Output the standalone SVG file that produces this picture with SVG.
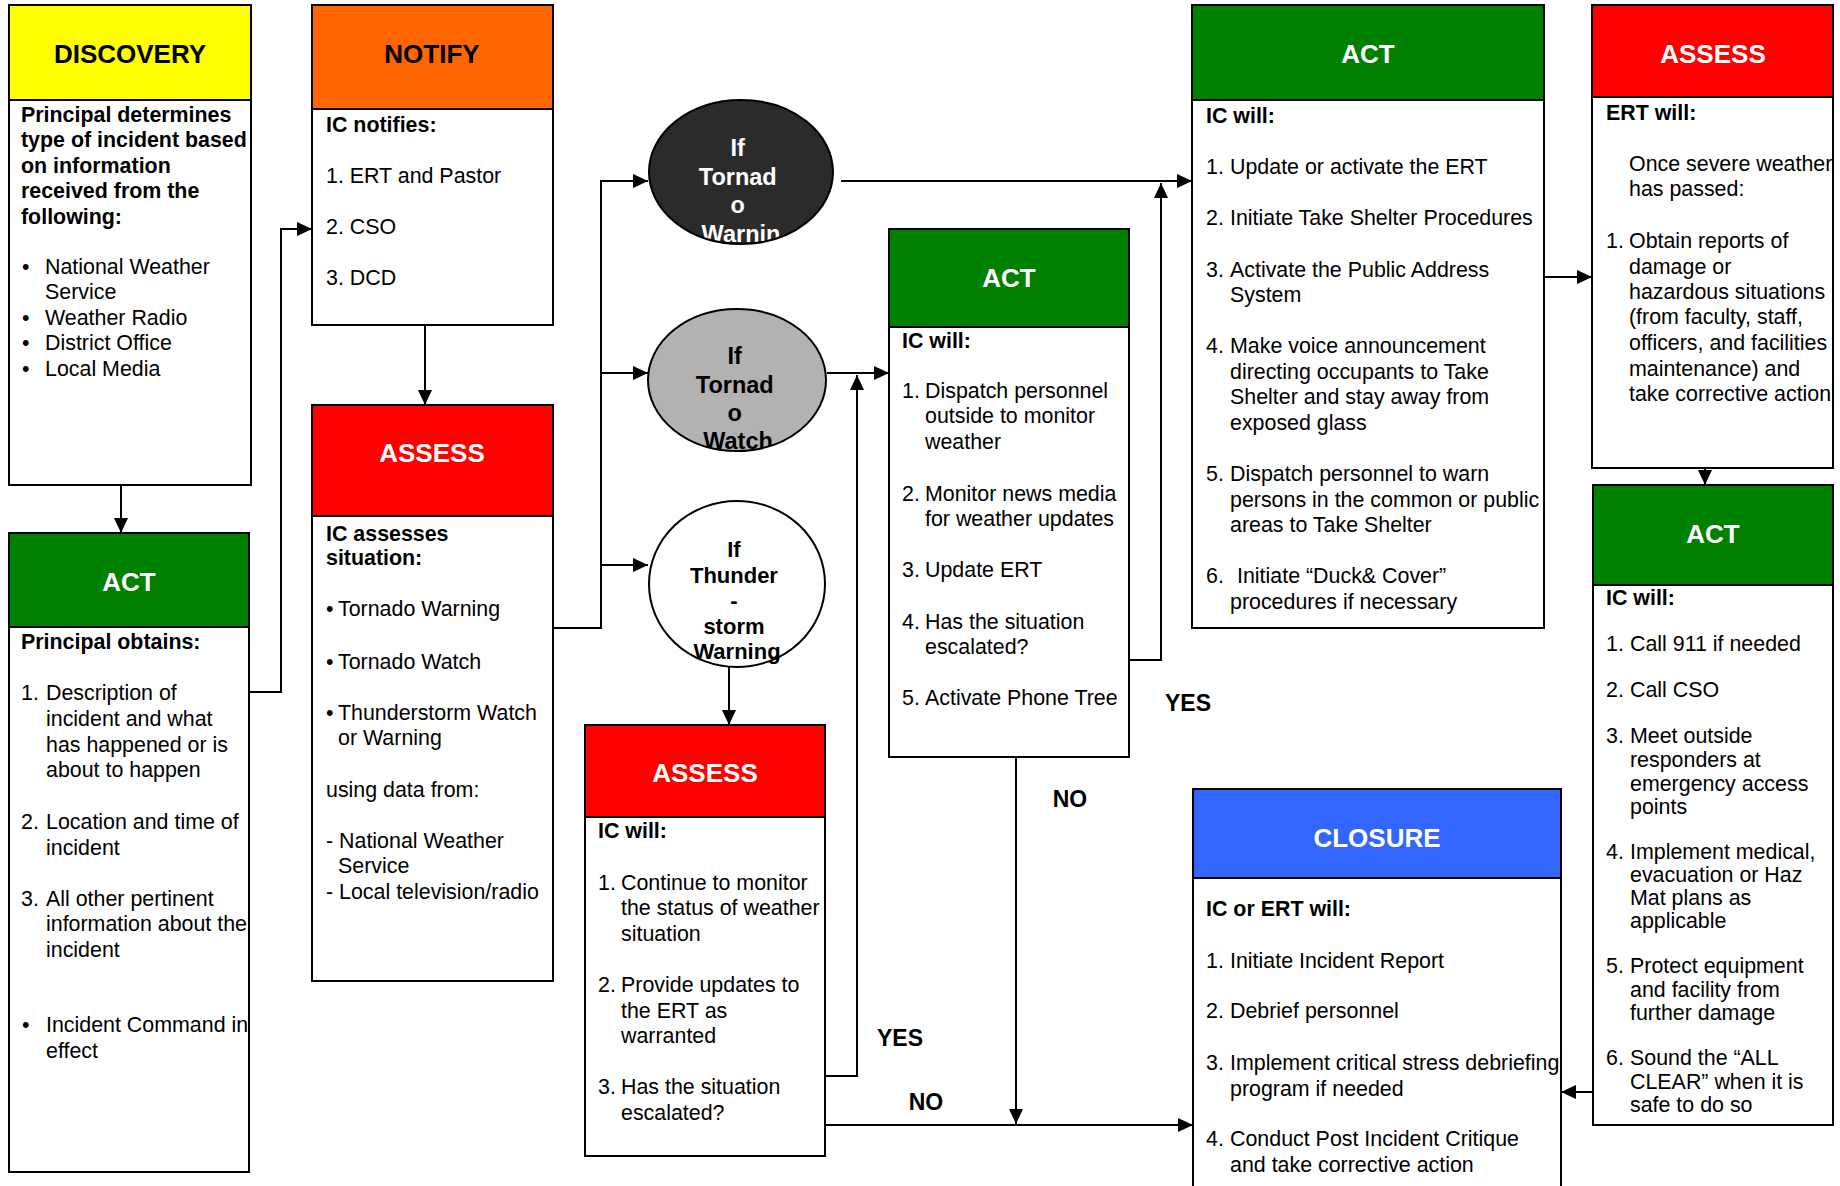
<svg xmlns="http://www.w3.org/2000/svg" width="1840" height="1186" viewBox="0 0 1840 1186">
  <defs>
    <style>
      text { font-family: "Liberation Sans", Arial, sans-serif; }
      .box { fill: #ffffff; stroke: #000000; stroke-width: 2; }
      .hd { stroke: #000000; stroke-width: 2; }
      .yellow { fill: #ffff00; }
      .orange { fill: #ff6600; }
      .red { fill: #ff0000; }
      .green { fill: #008000; }
      .blue { fill: #3366ff; }
      .title { font-size: 26px; font-weight: bold; text-anchor: middle; }
      .tw { fill: #ffffff; }
      .tb { fill: #000000; }
      .body { font-size: 21.4px; fill: #000000; }
      .bold { font-weight: bold; }
      .circ { font-size: 23.5px; font-weight: bold; text-anchor: middle; }
      .circ2 { font-size: 22px; font-weight: bold; text-anchor: middle; }
      .lbl { font-size: 23px; font-weight: bold; text-anchor: middle; fill: #000000; }
      .wire { fill: none; stroke: #000000; stroke-width: 2; }
      .arr { marker-end: url(#head); }
    </style>
    <marker id="head" markerUnits="userSpaceOnUse" markerWidth="15" markerHeight="14" viewBox="0 0 15 14" refX="15" refY="7" orient="auto">
      <path d="M0,0 L15,7 L0,14 z" fill="#000000"/>
    </marker>
    <clipPath id="clipWarn"><ellipse cx="741" cy="172" rx="92" ry="72"/></clipPath>
    <clipPath id="clipWatch"><ellipse cx="737" cy="380" rx="89" ry="71"/></clipPath>
    <clipPath id="clipAssessC"><rect x="1593" y="98" width="239" height="369"/></clipPath>
  </defs>

  <rect x="0" y="0" width="1840" height="1186" fill="#ffffff"/>

  <!-- DISCOVERY -->
  <g id="discovery">
    <rect class="box" x="9" y="100" width="242" height="385"/>
    <rect class="hd yellow" x="9" y="5" width="242" height="95"/>
    <text class="title tb" x="130" y="63">DISCOVERY</text>
    <text class="body bold">
      <tspan x="21" y="121.5">Principal determines</tspan>
      <tspan x="21" y="147">type of incident based</tspan>
      <tspan x="21" y="172.5">on information</tspan>
      <tspan x="21" y="198">received from the</tspan>
      <tspan x="21" y="223.5">following:</tspan>
    </text>
    <text class="body">
      <tspan x="22" y="273.5">•</tspan><tspan x="45">National Weather</tspan>
      <tspan x="45" y="299">Service</tspan>
      <tspan x="22" y="324.5">•</tspan><tspan x="45">Weather Radio</tspan>
      <tspan x="22" y="350">•</tspan><tspan x="45">District Office</tspan>
      <tspan x="22" y="375.5">•</tspan><tspan x="45">Local Media</tspan>
    </text>
  </g>

  <!-- NOTIFY -->
  <g id="notify">
    <rect class="box" x="312" y="109" width="241" height="216"/>
    <rect class="hd orange" x="312" y="5" width="241" height="104"/>
    <text class="title tb" x="432" y="63">NOTIFY</text>
    <text class="body bold" x="326" y="131.5">IC notifies:</text>
    <text class="body">
      <tspan x="326" y="182.5">1. ERT and Pastor</tspan>
      <tspan x="326" y="233.5">2. CSO</tspan>
      <tspan x="326" y="284.5">3. DCD</tspan>
    </text>
  </g>

  <!-- ASSESS (situation) -->
  <g id="assess-situation">
    <rect class="box" x="312" y="516" width="241" height="465"/>
    <rect class="hd red" x="312" y="405" width="241" height="111"/>
    <text class="title tw" x="432" y="462">ASSESS</text>
    <text class="body bold">
      <tspan x="326" y="540.5">IC assesses</tspan>
      <tspan x="326" y="565">situation:</tspan>
    </text>
    <text class="body">
      <tspan x="326" y="616">•</tspan><tspan x="338">Tornado Warning</tspan>
      <tspan x="326" y="669">•</tspan><tspan x="338">Tornado Watch</tspan>
      <tspan x="326" y="720">•</tspan><tspan x="338">Thunderstorm Watch</tspan>
      <tspan x="338" y="745">or Warning</tspan>
      <tspan x="326" y="797">using data from:</tspan>
      <tspan x="326" y="848">- National Weather</tspan>
      <tspan x="338" y="873">Service</tspan>
      <tspan x="326" y="899">- Local television/radio</tspan>
    </text>
  </g>

  <!-- ACT (principal) -->
  <g id="act-principal">
    <rect class="box" x="9" y="627" width="240" height="545"/>
    <rect class="hd green" x="9" y="533" width="240" height="94"/>
    <text class="title tw" x="129" y="591">ACT</text>
    <text class="body bold" x="21" y="649">Principal obtains:</text>
    <text class="body">
      <tspan x="21" y="700">1.</tspan><tspan x="46">Description of</tspan>
      <tspan x="46" y="725.5">incident and what</tspan>
      <tspan x="46" y="751.5">has happened or is</tspan>
      <tspan x="46" y="777">about to happen</tspan>
      <tspan x="21" y="829">2.</tspan><tspan x="46">Location and time of</tspan>
      <tspan x="46" y="854.5">incident</tspan>
      <tspan x="21" y="905.5">3.</tspan><tspan x="46">All other pertinent</tspan>
      <tspan x="46" y="931">information about the</tspan>
      <tspan x="46" y="956.5">incident</tspan>
      <tspan x="22" y="1032">•</tspan><tspan x="46">Incident Command in</tspan>
      <tspan x="46" y="1058">effect</tspan>
    </text>
  </g>

  <!-- Decision circles -->
  <g id="if-tornado-warning">
    <ellipse cx="741" cy="172" rx="92" ry="72" fill="#2b2b2b"/>
    <text class="circ tw" clip-path="url(#clipWarn)">
      <tspan x="741" y="155.5">If</tspan>
      <tspan x="741" y="184.5">Tornad</tspan>
      <tspan x="741" y="213">o</tspan>
      <tspan x="741" y="241.5">Warnin</tspan>
    </text>
    <ellipse cx="741" cy="172" rx="92" ry="72" fill="none" stroke="#000000" stroke-width="2"/>
  </g>

  <g id="if-tornado-watch">
    <ellipse cx="737" cy="380" rx="89" ry="71" fill="#b2b2b2"/>
    <text class="circ tb" clip-path="url(#clipWatch)">
      <tspan x="738" y="363.5">If</tspan>
      <tspan x="738" y="392.5">Tornad</tspan>
      <tspan x="738" y="420.5">o</tspan>
      <tspan x="738" y="448.5">Watch</tspan>
    </text>
    <ellipse cx="737" cy="380" rx="89" ry="71" fill="none" stroke="#000000" stroke-width="2"/>
  </g>

  <g id="if-thunderstorm-warning">
    <ellipse cx="737" cy="584" rx="88" ry="83" fill="#ffffff"/>
    <text class="circ2 tb">
      <tspan x="737" y="556.5">If</tspan>
      <tspan x="737" y="582.5">Thunder</tspan>
      <tspan x="737" y="607.5">-</tspan>
      <tspan x="737" y="633.5">storm</tspan>
      <tspan x="737" y="658.5">Warning</tspan>
    </text>
    <ellipse cx="737" cy="584" rx="88" ry="83" fill="none" stroke="#000000" stroke-width="2"/>
  </g>

  <!-- ACT (tornado watch) -->
  <g id="act-watch">
    <rect class="box" x="889" y="327" width="240" height="430"/>
    <rect class="hd green" x="889" y="229" width="240" height="98"/>
    <text class="title tw" x="1009" y="287">ACT</text>
    <text class="body bold" x="902" y="347.5">IC will:</text>
    <text class="body">
      <tspan x="902" y="397.5">1.</tspan><tspan x="925">Dispatch personnel</tspan>
      <tspan x="925" y="423">outside to monitor</tspan>
      <tspan x="925" y="448.5">weather</tspan>
      <tspan x="902" y="500.5">2.</tspan><tspan x="925">Monitor news media</tspan>
      <tspan x="925" y="525.5">for weather updates</tspan>
      <tspan x="902" y="577">3.</tspan><tspan x="925">Update ERT</tspan>
      <tspan x="902" y="628.5">4.</tspan><tspan x="925">Has the situation</tspan>
      <tspan x="925" y="653.5">escalated?</tspan>
      <tspan x="902" y="704.5">5.</tspan><tspan x="925">Activate Phone Tree</tspan>
    </text>
  </g>

  <!-- ASSESS (thunderstorm) -->
  <g id="assess-thunderstorm">
    <rect class="box" x="585" y="817" width="240" height="339"/>
    <rect class="hd red" x="585" y="725" width="240" height="92"/>
    <text class="title tw" x="705" y="782">ASSESS</text>
    <text class="body bold" x="598" y="837.5">IC will:</text>
    <text class="body">
      <tspan x="598" y="889.5">1.</tspan><tspan x="621">Continue to monitor</tspan>
      <tspan x="621" y="915">the status of weather</tspan>
      <tspan x="621" y="940.5">situation</tspan>
      <tspan x="598" y="991.5">2.</tspan><tspan x="621">Provide updates to</tspan>
      <tspan x="621" y="1017.5">the ERT as</tspan>
      <tspan x="621" y="1042.5">warranted</tspan>
      <tspan x="598" y="1093.5">3.</tspan><tspan x="621">Has the situation</tspan>
      <tspan x="621" y="1119.5">escalated?</tspan>
    </text>
  </g>

  <!-- ACT (tornado warning) -->
  <g id="act-warning">
    <rect class="box" x="1192" y="100" width="352" height="528"/>
    <rect class="hd green" x="1192" y="5" width="352" height="95"/>
    <text class="title tw" x="1368" y="63">ACT</text>
    <text class="body bold" x="1206" y="122.5">IC will:</text>
    <text class="body">
      <tspan x="1206" y="173.5">1.</tspan><tspan x="1230">Update or activate the ERT</tspan>
      <tspan x="1206" y="224.5">2.</tspan><tspan x="1230">Initiate Take Shelter Procedures</tspan>
      <tspan x="1206" y="276.5">3.</tspan><tspan x="1230">Activate the Public Address</tspan>
      <tspan x="1230" y="301.5">System</tspan>
      <tspan x="1206" y="353">4.</tspan><tspan x="1230">Make voice announcement</tspan>
      <tspan x="1230" y="378.5">directing occupants to Take</tspan>
      <tspan x="1230" y="404">Shelter and stay away from</tspan>
      <tspan x="1230" y="429.5">exposed glass</tspan>
      <tspan x="1206" y="481">5.</tspan><tspan x="1230">Dispatch personnel to warn</tspan>
      <tspan x="1230" y="506.5">persons in the common or public</tspan>
      <tspan x="1230" y="532">areas to Take Shelter</tspan>
      <tspan x="1206" y="583">6.</tspan><tspan x="1237">Initiate “Duck&amp; Cover”</tspan>
      <tspan x="1230" y="608.5">procedures if necessary</tspan>
    </text>
  </g>

  <!-- ASSESS (after the storm) -->
  <g id="assess-after">
    <rect class="box" x="1592" y="97" width="241" height="371"/>
    <rect class="hd red" x="1592" y="5" width="241" height="92"/>
    <text class="title tw" x="1713" y="63">ASSESS</text>
    <g clip-path="url(#clipAssessC)">
      <text class="body bold" x="1606" y="119.5">ERT will:</text>
      <text class="body">
        <tspan x="1629" y="170.5">Once severe weather</tspan>
        <tspan x="1629" y="196">has passed:</tspan>
        <tspan x="1606" y="247.5">1.</tspan><tspan x="1629">Obtain reports of</tspan>
        <tspan x="1629" y="273.5">damage or</tspan>
        <tspan x="1629" y="299">hazardous situations</tspan>
        <tspan x="1629" y="324">(from faculty, staff,</tspan>
        <tspan x="1629" y="349.5">officers, and facilities</tspan>
        <tspan x="1629" y="375.5">maintenance) and</tspan>
        <tspan x="1629" y="401">take corrective action</tspan>
      </text>
    </g>
  </g>

  <!-- ACT (response) -->
  <g id="act-response">
    <rect class="box" x="1593" y="585" width="240" height="540"/>
    <rect class="hd green" x="1593" y="485" width="240" height="100"/>
    <text class="title tw" x="1713" y="543">ACT</text>
    <text class="body bold" x="1606" y="604.5">IC will:</text>
    <text class="body">
      <tspan x="1606" y="650.5">1.</tspan><tspan x="1630">Call 911 if needed</tspan>
      <tspan x="1606" y="696.5">2.</tspan><tspan x="1630">Call CSO</tspan>
      <tspan x="1606" y="742.5">3.</tspan><tspan x="1630">Meet outside</tspan>
      <tspan x="1630" y="766.5">responders at</tspan>
      <tspan x="1630" y="790.5">emergency access</tspan>
      <tspan x="1630" y="813.5">points</tspan>
      <tspan x="1606" y="858.5">4.</tspan><tspan x="1630">Implement medical,</tspan>
      <tspan x="1630" y="881.5">evacuation or Haz</tspan>
      <tspan x="1630" y="904.5">Mat plans as</tspan>
      <tspan x="1630" y="927.5">applicable</tspan>
      <tspan x="1606" y="972.5">5.</tspan><tspan x="1630">Protect equipment</tspan>
      <tspan x="1630" y="996.5">and facility from</tspan>
      <tspan x="1630" y="1019.5">further damage</tspan>
      <tspan x="1606" y="1064.5">6.</tspan><tspan x="1630">Sound the “ALL</tspan>
      <tspan x="1630" y="1088.5">CLEAR” when it is</tspan>
      <tspan x="1630" y="1111.5">safe to do so</tspan>
    </text>
  </g>

  <!-- CLOSURE -->
  <g id="closure">
    <rect class="box" x="1193" y="878" width="368" height="330"/>
    <rect class="hd blue" x="1193" y="789" width="368" height="89"/>
    <text class="title tw" x="1377" y="847">CLOSURE</text>
    <text class="body bold" x="1206" y="915.5">IC or ERT will:</text>
    <text class="body">
      <tspan x="1206" y="967.5">1.</tspan><tspan x="1230">Initiate Incident Report</tspan>
      <tspan x="1206" y="1018">2.</tspan><tspan x="1230">Debrief personnel</tspan>
      <tspan x="1206" y="1069.5">3.</tspan><tspan x="1230">Implement critical stress debriefing</tspan>
      <tspan x="1230" y="1095.5">program if needed</tspan>
      <tspan x="1206" y="1146">4.</tspan><tspan x="1230">Conduct Post Incident Critique</tspan>
      <tspan x="1230" y="1171.5">and take corrective action</tspan>
    </text>
  </g>

  <!-- Connectors -->
  <g id="connectors">
    <path class="wire arr" d="M121,485 V533"/>
    <path class="wire arr" d="M249,692 H281 V229 H312"/>
    <path class="wire arr" d="M425,325 V405"/>
    <path class="wire arr" d="M553,628 H601 V181 H648"/>
    <path class="wire arr" d="M601,373 H648"/>
    <path class="wire arr" d="M601,565 H648"/>
    <path class="wire arr" d="M841,181 H1192"/>
    <path class="wire arr" d="M827,373 H889"/>
    <path class="wire arr" d="M729,667 V725"/>
    <path class="wire arr" d="M825,1076 H857 V375"/>
    <path class="wire arr" d="M825,1125 H1193"/>
    <path class="wire arr" d="M1016,757 V1124"/>
    <path class="wire arr" d="M1129,660 H1161 V183"/>
    <path class="wire arr" d="M1544,277 H1592"/>
    <path class="wire arr" d="M1705,468 V485"/>
    <path class="wire arr" d="M1593,1092 H1561"/>
    <text class="lbl" x="900" y="1046">YES</text>
    <text class="lbl" x="926" y="1110">NO</text>
    <text class="lbl" x="1070" y="807">NO</text>
    <text class="lbl" x="1188" y="711">YES</text>
  </g>
</svg>
